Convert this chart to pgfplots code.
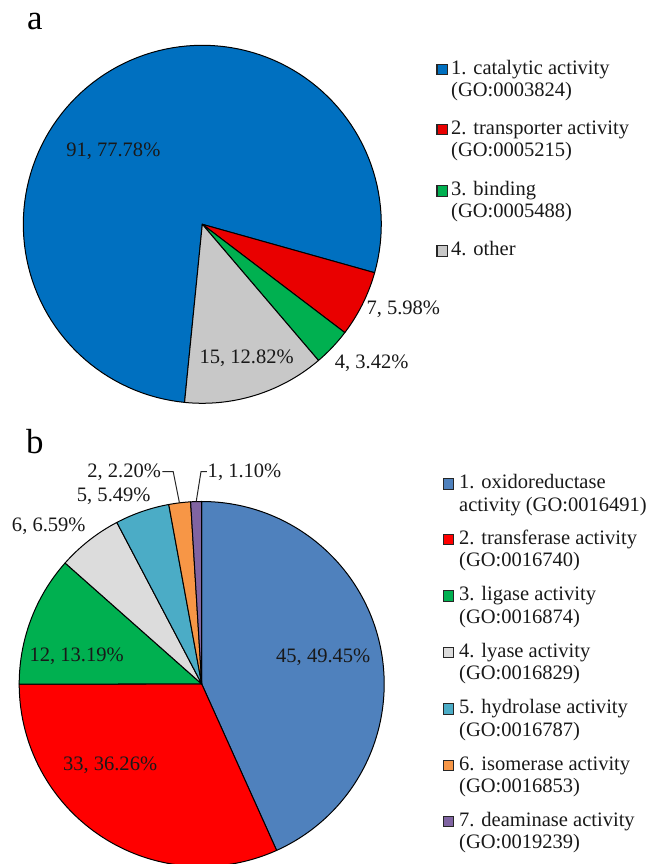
\documentclass[border=0pt]{standalone}
\usepackage{pgfplots}
\usepackage{pgfplotstable}
\pgfplotsset{compat=1.18}
\usepackage{fontspec}
\setmainfont{Liberation Serif}

% slice colours
\definecolor{ablue}{RGB}{0,112,192}
\definecolor{ared}{RGB}{233,0,0}
\definecolor{agreen}{RGB}{0,176,80}
\definecolor{agray}{RGB}{200,200,200}
\definecolor{bblue}{RGB}{79,129,189}
\definecolor{bred}{RGB}{255,0,0}
\definecolor{bgreen}{RGB}{0,176,80}
\definecolor{bgray}{RGB}{220,220,220}
\definecolor{bteal}{RGB}{75,172,198}
\definecolor{borange}{RGB}{247,150,70}
\definecolor{bpurple}{RGB}{128,100,162}

% (a) molecular function, number of genes
\pgfplotstableread{
value color
91 ablue
7  ared
4  agreen
15 agray
}\goA

% (b) enzyme activity, number of genes
\pgfplotstableread{
value color
45 bblue
33 bred
12 bgreen
6  bgray
5  bteal
2  borange
1  bpurple
}\goB

% draws the rows of table #1 as pie slices, clockwise from angle #2
\newcommand\drawpie[2]{%
  \pgfplotstablegetrowsof{#1}%
  \pgfmathtruncatemacro\pielast{\pgfplotsretval-1}%
  \def\pietotal{0}%
  \pgfplotsforeachungrouped \i in {0,...,\pielast}{%
    \pgfplotstablegetelem{\i}{value}\of#1%
    \pgfmathsetmacro\pietotal{\pietotal+\pgfplotsretval}%
  }%
  \pgfmathsetmacro\piefrom{#2}%
  \pgfplotsforeachungrouped \i in {0,...,\pielast}{%
    \pgfplotstablegetelem{\i}{value}\of#1\let\pieval\pgfplotsretval
    \pgfplotstablegetelem{\i}{color}\of#1\let\piecol\pgfplotsretval
    \pgfmathsetmacro\pieto{\piefrom-(\pieval/\pietotal)*360}%
    \edef\pieslice{\noexpand\addplot[draw=black, line width=1bp, line join=round,
      fill=\piecol, domain=\pieto:\piefrom, samples=120]
      ({cos(x)},{sin(x)}) -- (axis cs:0,0) -- cycle;}%
    \pieslice
    \let\piefrom\pieto
  }%
}

\tikzset{
  txt/.style={font=\fontsize{20.6}{22}\selectfont, inner sep=0pt, text=black!90},
  key/.style={draw=black!85, line width=1.2bp},
}

\begin{document}
\begin{tikzpicture}[x=1bp, y=1bp]
\path[use as bounding box] (0,0) rectangle (646,864);

% panel letters
\node[font=\fontsize{35}{35}\selectfont, inner sep=0pt, anchor=base west] at (27,834) {a};
\node[font=\fontsize{35}{35}\selectfont, inner sep=0pt, anchor=base west] at (26,410.7) {b};

% ---------- pie a ----------
\begin{axis}[at={(202.3bp,639.7bp)}, anchor=origin, x=179bp, y=179bp,
  xmin=-1.05, xmax=1.05, ymin=-1.05, ymax=1.05, hide axis, clip=false]
  \drawpie{\goA}{264.3}
  \node[txt] at (axis cs:-0.497,0.41)  {91, 77.78\%};
  \node[txt] at (axis cs:1.123,-0.475) {7, 5.98\%};
  \node[txt] at (axis cs:0.946,-0.775) {4, 3.42\%};
  \node[txt] at (axis cs:0.248,-0.749) {15, 12.82\%};
\end{axis}

% legend a
\foreach \yc/\la/\lb/\c in {
  794.5/{1. catalytic activity}/{(GO:0003824)}/ablue,
  734.5/{2. transporter activity}/{(GO:0005215)}/ared,
  673/{3. binding}/{(GO:0005488)}/agreen,
  613/{4. other}/{}/agray}{
  \filldraw[key, fill=\c] (437,\yc-5.3) rectangle (447.6,\yc+5.3);
  \node[txt, anchor=base west] at (451,\yc-4.6) {\la};
  \node[txt, anchor=base west] at (451,\yc-26.6) {\lb};
}

% ---------- pie b ----------
\begin{axis}[at={(201.7bp,180bp)}, anchor=origin, x=182.5bp, y=182.5bp,
  xmin=-1.05, xmax=1.05, ymin=-1.05, ymax=1.05, hide axis, clip=false]
  \drawpie{\goB}{90}
  \node[txt] at (axis cs:0.666,0.146)   {45, 49.45\%};
  \node[txt] at (axis cs:-0.502,-0.444) {33, 36.26\%};
  \node[txt] at (axis cs:-0.685,0.153)  {12, 13.19\%};
  \node[txt] at (axis cs:-0.838,0.862)  {6, 6.59\%};
  \node[txt] at (axis cs:-0.482,1.026)  {5, 5.49\%};
  \node[txt, anchor=east] at (axis cs:-0.222,1.160) {2, 2.20\%};
  \node[txt, anchor=west] at (axis cs:0.032,1.160)  {1, 1.10\%};
  \draw[black!85, line width=1bp] (axis cs:-0.215,1.163) -- (axis cs:-0.156,1.163) -- (axis cs:-0.122,0.993);
  \draw[black!85, line width=1bp] (axis cs:0.028,1.163) -- (axis cs:-0.004,1.163) -- (axis cs:-0.030,1.0);
\end{axis}

% legend b
\foreach \yc/\la/\lb/\c in {
  379.8/{1. oxidoreductase}/{activity (GO:0016491)}/bblue,
  324.5/{2. transferase activity}/{(GO:0016740)}/bred,
  268/{3. ligase activity}/{(GO:0016874)}/bgreen,
  211.5/{4. lyase activity}/{(GO:0016829)}/bgray,
  155/{5. hydrolase activity}/{(GO:0016787)}/bteal,
  98.5/{6. isomerase activity}/{(GO:0016853)}/borange,
  42.5/{7. deaminase activity}/{(GO:0019239)}/bpurple}{
  \filldraw[key, fill=\c] (443.2,\yc-5.3) rectangle (453.8,\yc+5.3);
  \node[txt, anchor=base west] at (459,\yc-4.6) {\la};
  \node[txt, anchor=base west] at (459,\yc-27.1) {\lb};
}
\end{tikzpicture}
\end{document}
